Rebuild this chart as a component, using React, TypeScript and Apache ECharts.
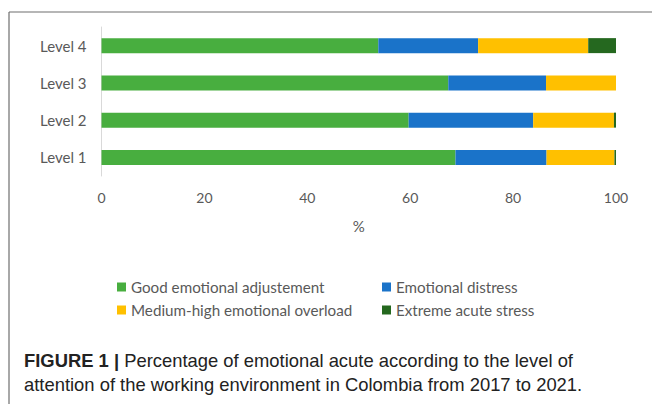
import React, { useEffect, useRef } from "react";
import * as echarts from "echarts";

const categories = ["Level 1", "Level 2", "Level 3", "Level 4"];
const goodAdjustment = [68.8, 59.7, 67.4, 53.8];
const emotionalDistress = [17.7, 24.2, 19.0, 19.4];
const mediumHighOverload = [13.2, 15.7, 13.6, 21.4];
const extremeAcuteStress = [0.3, 0.4, 0, 5.4];
const xTicks = { min: 0, max: 100, interval: 20 };

const seriesNames = [
  "Good emotional adjustement",
  "Emotional distress",
  "Medium-high emotional overload",
  "Extreme acute stress",
];
const colors = ["#48AE3F", "#1A73C9", "#FFC000", "#25681F"];
const seriesData = [goodAdjustment, emotionalDistress, mediumHighOverload, extremeAcuteStress];

const textColor = "#595959";
const chartFont = "Lato";

export default function App() {
  const ref = useRef<HTMLDivElement>(null);
  useEffect(() => {
    if (!ref.current) return;
    const chart = echarts.init(ref.current, null, { renderer: "svg" });
    const legendCommon = {
      orient: "vertical" as const,
      top: 273,
      icon: "rect",
      itemWidth: 9,
      itemHeight: 9,
      itemGap: 5,
      textStyle: { color: textColor, fontSize: 15.2, fontFamily: chartFont, lineHeight: 18 },
      selectedMode: false,
    };
    chart.setOption({
      animation: false,
      grid: { left: 101.5, top: 27, width: 514.5, height: 149, containLabel: false },
      xAxis: {
        type: "value",
        min: xTicks.min,
        max: xTicks.max,
        interval: xTicks.interval,
        splitLine: { show: false },
        axisLine: { show: false },
        axisTick: { show: false },
        axisLabel: { color: textColor, fontSize: 14, fontFamily: chartFont, margin: 14 },
        name: "%",
        nameLocation: "middle",
        nameGap: 42,
        nameTextStyle: { color: textColor, fontSize: 15, fontFamily: chartFont },
      },
      yAxis: {
        type: "category",
        data: categories,
        axisLine: { show: true, lineStyle: { color: "#D9D9D9", width: 1 } },
        axisTick: { show: false },
        axisLabel: { color: textColor, fontSize: 15, fontFamily: chartFont, margin: 15 },
      },
      legend: [
        { ...legendCommon, left: 112, data: [seriesNames[0], seriesNames[2]] },
        { ...legendCommon, left: 377, data: [seriesNames[1], seriesNames[3]] },
      ],
      series: seriesNames.map((name, i) => ({
        name,
        type: "bar",
        stack: "total",
        barWidth: 15,
        data: seriesData[i],
        itemStyle: { color: colors[i] },
      })),
      graphic: [
        {
          type: "line",
          shape: { x1: 9, y1: 12, x2: 652, y2: 12 },
          style: { stroke: "#6E6E6E", lineWidth: 1.2 },
        },
        {
          type: "line",
          shape: { x1: 9, y1: 12, x2: 9, y2: 404 },
          style: { stroke: "#6E6E6E", lineWidth: 1.2 },
        },
        {
          type: "text",
          left: 24,
          top: 348,
          style: {
            text:
              "{b|FIGURE 1 |} Percentage of emotional acute according to the level of\nattention of the working environment in Colombia from 2017 to 2021.",
            fontFamily: "Liberation Sans",
            fontSize: 18.4,
            lineHeight: 24,
            fill: "#222222",
            rich: {
              b: { fontWeight: "bold", fontFamily: "Liberation Sans", fontSize: 18.4, fill: "#222222", lineHeight: 24 },
            },
          },
        },
      ],
    });
    return () => chart.dispose();
  }, []);
  return (
    <div
      ref={ref}
      style={{ position: "fixed", left: 0, top: 0, width: 652, height: 404, background: "#fff" }}
    />
  );
}
